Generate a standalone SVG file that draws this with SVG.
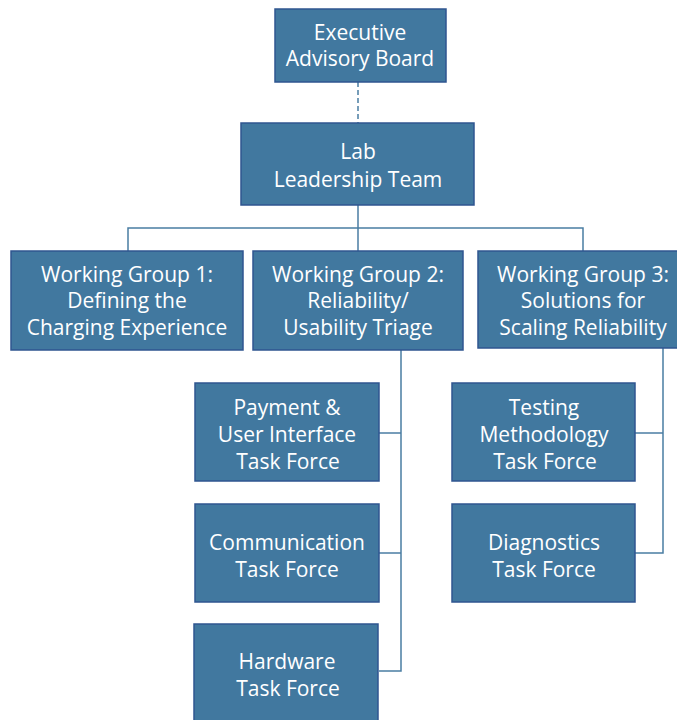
<svg xmlns="http://www.w3.org/2000/svg" width="677" height="720" viewBox="0 0 677 720">
<style>
.box{fill:#41789F;stroke:#2F5590;stroke-width:1.5}
.t{font-family:"Open Sans","Noto Sans",sans-serif;font-size:21px;fill:#FFFFFF;text-anchor:middle}
.c{fill:none;stroke:#4A7DA3;stroke-width:1.5}
</style>
<rect width="677" height="720" fill="#FFFFFF"/>
<g id="connectors">
<line class="c" x1="358" y1="82" x2="358" y2="123" stroke-dasharray="5,3"/>
<line class="c" x1="358" y1="205" x2="358" y2="251"/>
<polyline class="c" points="128,251 128,228 583,228 583,251"/>
<polyline class="c" points="401,350 401,671 379,671"/>
<line class="c" x1="379" y1="433" x2="401" y2="433"/>
<line class="c" x1="379" y1="553" x2="401" y2="553"/>
<polyline class="c" points="663,348 663,553 635,553"/>
<line class="c" x1="635" y1="433" x2="663" y2="433"/>
</g>
<g id="exec">
<rect class="box" x="275" y="9" width="171" height="73"/>
<text class="t" x="360" y="40">Executive</text>
<text class="t" x="360" y="66">Advisory Board</text>
</g>
<g id="lab">
<rect class="box" x="241" y="123" width="233" height="82"/>
<text class="t" x="358" y="159">Lab</text>
<text class="t" x="358" y="187">Leadership Team</text>
</g>
<g id="wg1">
<rect class="box" x="11" y="251" width="232" height="99"/>
<text class="t" x="127" y="282">Working Group 1:</text>
<text class="t" x="127" y="308">Defining the</text>
<text class="t" x="127" y="335">Charging Experience</text>
</g>
<g id="wg2">
<rect class="box" x="253" y="251" width="210" height="99"/>
<text class="t" x="358" y="282">Working Group 2:</text>
<text class="t" x="358" y="308">Reliability/</text>
<text class="t" x="358" y="335">Usability Triage</text>
</g>
<g id="wg3">
<rect class="box" x="478" y="251" width="205" height="97"/>
<text class="t" x="583" y="282">Working Group 3:</text>
<text class="t" x="583" y="308">Solutions for</text>
<text class="t" x="583" y="335">Scaling Reliability</text>
</g>
<g id="payment">
<rect class="box" x="195" y="383" width="184" height="98"/>
<text class="t" x="287" y="415">Payment &amp;</text>
<text class="t" x="287" y="442">User Interface</text>
<text class="t" x="288" y="469">Task Force</text>
</g>
<g id="communication">
<rect class="box" x="195" y="504" width="184" height="98"/>
<text class="t" x="287" y="550">Communication</text>
<text class="t" x="287" y="577">Task Force</text>
</g>
<g id="hardware">
<rect class="box" x="194" y="624" width="184" height="100"/>
<text class="t" x="287" y="669">Hardware</text>
<text class="t" x="288" y="696">Task Force</text>
</g>
<g id="testing">
<rect class="box" x="452" y="383" width="183" height="98"/>
<text class="t" x="544" y="415">Testing</text>
<text class="t" x="544" y="442">Methodology</text>
<text class="t" x="545" y="469">Task Force</text>
</g>
<g id="diagnostics">
<rect class="box" x="452" y="504" width="183" height="98"/>
<text class="t" x="544" y="550">Diagnostics</text>
<text class="t" x="544" y="577">Task Force</text>
</g>
</svg>
